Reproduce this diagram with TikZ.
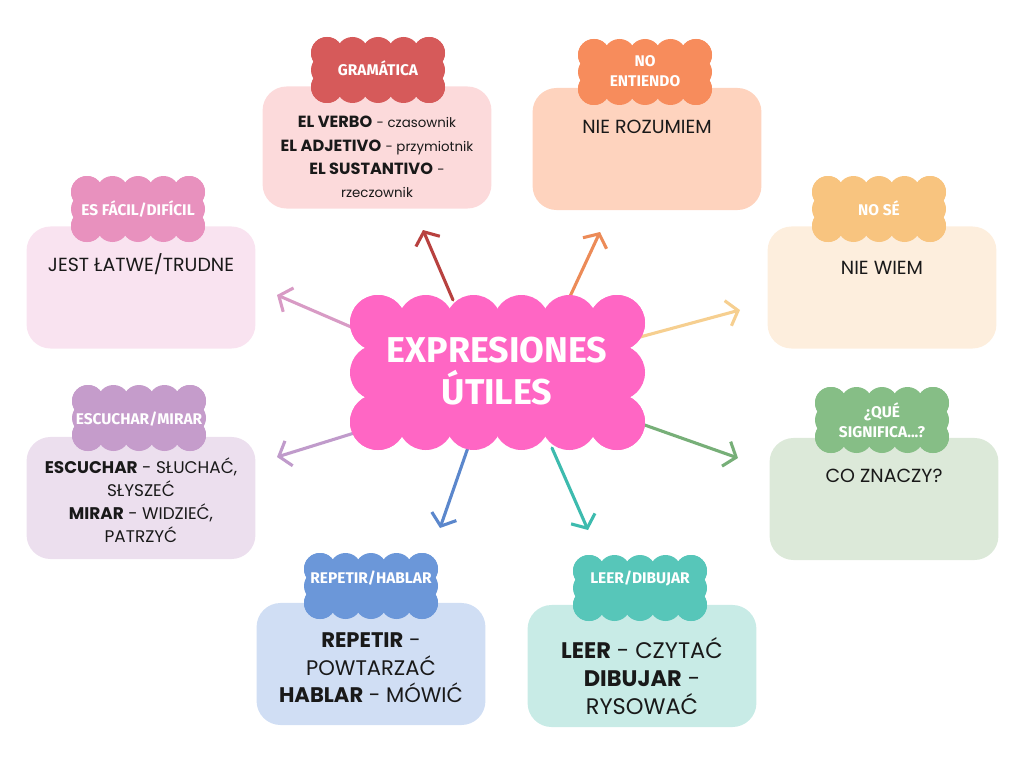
\documentclass[tikz,border=0pt]{standalone}
\usepackage{fontspec}
\setmainfont{Poppins}
\newfontfamily\tagfont{Fira Sans}
\usetikzlibrary{arrows.meta}

\definecolor{hubPink}{HTML}{FF66C4}
\definecolor{gramTag}{HTML}{D65A5A}  \definecolor{gramBg}{HTML}{FCDADB}  \definecolor{gramArr}{HTML}{B8413F}
\definecolor{entTag}{HTML}{F78C5C}   \definecolor{entBg}{HTML}{FED3BE}   \definecolor{entArr}{HTML}{EC8B58}
\definecolor{facTag}{HTML}{E891BE}   \definecolor{facBg}{HTML}{F9E3F0}   \definecolor{facArr}{HTML}{D89BC5}
\definecolor{seTag}{HTML}{F8C47F}    \definecolor{seBg}{HTML}{FDEEDD}    \definecolor{seArr}{HTML}{F6CF90}
\definecolor{escTag}{HTML}{C59CCB}   \definecolor{escBg}{HTML}{ECDFEE}   \definecolor{escArr}{HTML}{C09BCB}
\definecolor{queTag}{HTML}{86BE86}   \definecolor{queBg}{HTML}{DCE9D9}   \definecolor{queArr}{HTML}{77AF78}
\definecolor{repTag}{HTML}{6B97D9}   \definecolor{repBg}{HTML}{D0DEF4}   \definecolor{repArr}{HTML}{5B87CC}
\definecolor{leeTag}{HTML}{57C6B9}   \definecolor{leeBg}{HTML}{C8EBE6}   \definecolor{leeArr}{HTML}{3DBBAE}

% scalloped cloud: x0, y0, x1, y1, radius, bumps across, bumps down, colour
\newcommand{\puffs}[8]{%
  \fill[#8] ({(#1)+#5},{(#2)+#5}) rectangle ({(#3)-#5},{(#4)-#5});
  \foreach \k in {0,...,#6}{
    \fill[#8] ({(#1)+#5+\k*((#3)-(#1)-2*#5)/#6},{(#2)+#5}) circle[radius=#5];
    \fill[#8] ({(#1)+#5+\k*((#3)-(#1)-2*#5)/#6},{(#4)-#5}) circle[radius=#5];
  }
  \foreach \k in {0,...,#7}{
    \fill[#8] ({(#1)+#5},{(#2)+#5+\k*((#4)-(#2)-2*#5)/#7}) circle[radius=#5];
    \fill[#8] ({(#3)-#5},{(#2)+#5+\k*((#4)-(#2)-2*#5)/#7}) circle[radius=#5];
  }
}
\newcommand{\tagcloud}[3]{\puffs{#1-67}{#2-33}{#1+67}{#2+33}{16}{4}{2}{#3}}

\tikzset{
  box/.style={rounded corners=0.6cm, minimum width=5.72cm, minimum height=3.05cm, inner sep=0pt},
  tagtxt/.style={text=white, font=\tagfont\bfseries\fontsize{11}{13}\selectfont, align=center, inner sep=0pt},
  bodytxt/.style={align=center, inner sep=0pt, text=black!90},
  arr/.style={line width=2.2pt, line cap=round, line join=round, -{Straight Barb[length=2.6mm,width=6.5mm]}},
}

\begin{document}
\begin{tikzpicture}[x=0.025cm,y=-0.025cm]
\useasboundingbox (0,0) rectangle (1024,768);

% boxes
\node[box, fill=gramBg] (gramBox) at (377,147.5) {};
\node[box, fill=entBg]  (entBox)  at (647,149) {};
\node[box, fill=facBg]  (facBox)  at (141,287.5) {};
\node[box, fill=seBg]   (seBox)   at (882,287.5) {};
\node[box, fill=escBg]  (escBox)  at (141,498) {};
\node[box, fill=queBg]  (queBox)  at (884,499) {};
\node[box, fill=repBg]  (repBox)  at (371,664) {};
\node[box, fill=leeBg]  (leeBox)  at (642,666) {};

% tag clouds
\tagcloud{378}{70}{gramTag}
\tagcloud{645}{72}{entTag}
\tagcloud{138}{209}{facTag}
\tagcloud{879}{209}{seTag}
\tagcloud{139}{418}{escTag}
\tagcloud{882}{420}{queTag}
\tagcloud{371}{586}{repTag}
\tagcloud{640}{588}{leeTag}

\node[tagtxt] (gramLbl) at (378,68) {GRAMÁTICA};
\node[tagtxt] (entLbl)  at (645,71) {NO\\[1pt]ENTIENDO};
\node[tagtxt] (facLbl)  at (138,209) {ES FÁCIL/DIFÍCIL};
\node[tagtxt] (seLbl)   at (879,208) {NO SÉ};
\node[tagtxt] (escLbl)  at (139,419) {ESCUCHAR/MIRAR};
\node[tagtxt] (queLbl)  at (882,420) {¿QUÉ\\[1pt]SIGNIFICA...?};
\node[tagtxt] (repLbl)  at (371,578) {REPETIR/HABLAR};
\node[tagtxt] (leeLbl)  at (640,578) {LEER/DIBUJAR};

% box texts
\node[bodytxt, font=\fontsize{11.5}{16.5}\selectfont] (gramTxt) at (377,157) {%
  \textbf{EL VERBO} {\fontsize{9.5}{16.5}\selectfont - czasownik}\\
  \textbf{EL ADJETIVO} {\fontsize{9.5}{16.5}\selectfont - przymiotnik}\\
  \textbf{EL SUSTANTIVO} {\fontsize{9.5}{16.5}\selectfont -}\\
  {\fontsize{9.5}{16.5}\selectfont rzeczownik}};
\node[bodytxt, font=\fontsize{13.5}{16}\selectfont] (entTxt) at (647,127) {NIE ROZUMIEM};
\node[bodytxt, font=\fontsize{13.5}{16}\selectfont] (facTxt) at (141,264) {JEST ŁATWE/TRUDNE};
\node[bodytxt, font=\fontsize{13.5}{16}\selectfont] (seTxt)  at (882,268) {NIE WIEM};
\node[bodytxt, font=\fontsize{12}{16.5}\selectfont] (escTxt) at (141,500) {%
  \textbf{ESCUCHAR} - SŁUCHAĆ,\\SŁYSZEĆ\\\textbf{MIRAR} - WIDZIEĆ,\\PATRZYĆ};
\node[bodytxt, font=\fontsize{13.5}{16}\selectfont] (queTxt) at (884,476) {CO ZNACZY?};
\node[bodytxt, font=\fontsize{15}{19.5}\selectfont] (repTxt) at (371,668) {%
  \textbf{REPETIR} -\\POWTARZAĆ\\\textbf{HABLAR} - MÓWIĆ};
\node[bodytxt, font=\fontsize{16}{20}\selectfont] (leeTxt) at (642,676) {%
  \textbf{LEER} - CZYTAĆ\\\textbf{DIBUJAR} -\\RYSOWAĆ};

% arrows out of the hub
\coordinate (gramS) at (453,300); \coordinate (gramT) at (423,230);
\coordinate (entS)  at (566,305); \coordinate (entT)  at (600,232);
\coordinate (facS)  at (365,333); \coordinate (facT)  at (277,295);
\coordinate (seS)   at (640,337); \coordinate (seT)   at (740,310);
\coordinate (escS)  at (380,425); \coordinate (escT)  at (277,457);
\coordinate (queS)  at (622,417); \coordinate (queT)  at (738,458);
\coordinate (repS)  at (472,436); \coordinate (repT)  at (440,528);
\coordinate (leeS)  at (552,448); \coordinate (leeT)  at (588,530);
\draw[arr, gramArr] (gramS) -- (gramT);
\draw[arr, entArr]  (entS) -- (entT);
\draw[arr, facArr]  (facS) -- (facT);
\draw[arr, seArr]   (seS) -- (seT);
\draw[arr, escArr]  (escS) -- (escT);
\draw[arr, queArr]  (queS) -- (queT);
\draw[arr, repArr]  (repS) -- (repT);
\draw[arr, leeArr]  (leeS) -- (leeT);

% hub
\puffs{350}{295}{645}{450}{28}{5}{2}{hubPink}
\node[text=white, align=center, inner sep=0pt,
  font=\tagfont\bfseries\fontsize{25.5}{30}\selectfont] (hub) at (497,371) {EXPRESIONES\\ÚTILES};
\end{tikzpicture}
\end{document}
